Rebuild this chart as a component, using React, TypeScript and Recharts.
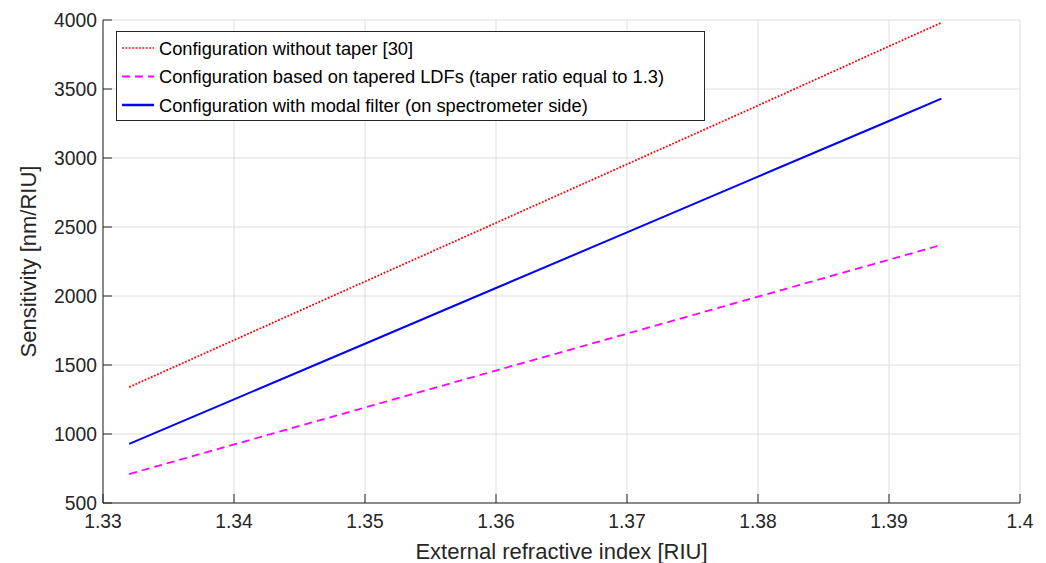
import React from "react";
import {
  LineChart,
  Line,
  XAxis,
  YAxis,
  CartesianGrid,
} from "recharts";

const xValues = [1.332, 1.34, 1.35, 1.36, 1.37, 1.38, 1.39, 1.394];
const withoutTaper = [1340, 1680, 2105, 2530, 2955, 3380, 3810, 3980];
const taperedLDF = [710, 924, 1192, 1460, 1727, 1995, 2263, 2370];
const modalFilter = [928, 1251, 1654, 2058, 2461, 2865, 3268, 3430];

const xTicks = [1.33, 1.34, 1.35, 1.36, 1.37, 1.38, 1.39, 1.4];
const yTicks = [500, 1000, 1500, 2000, 2500, 3000, 3500, 4000];

const seriesNames = [
  "Configuration without taper [30]",
  "Configuration based on tapered LDFs (taper ratio equal to 1.3)",
  "Configuration with modal filter (on spectrometer side)",
];

const data = xValues.map((x, i) => ({
  x,
  withoutTaper: withoutTaper[i],
  taperedLDF: taperedLDF[i],
  modalFilter: modalFilter[i],
}));

const SERIES = [
  { key: "withoutTaper", name: seriesNames[0], color: "#ff0000", dash: "1.8 1.6", width: 1.8, legendWidth: 1.5 },
  { key: "taperedLDF", name: seriesNames[1], color: "#ff00ff", dash: "8 5", width: 1.8, legendWidth: 2 },
  { key: "modalFilter", name: seriesNames[2], color: "#0000ff", dash: undefined as string | undefined, width: 2, legendWidth: 2.5 },
];

const FONT = "'Liberation Sans', Arial, Helvetica, sans-serif";
const AX = "#262626";
const TICK_LEN = 9;

const BottomTick = (props: any) => {
  const { x, y, payload } = props;
  return (
    <g>
      <line x1={x} x2={x} y1={y} y2={y - TICK_LEN} stroke={AX} strokeWidth={1} />
      <text x={x} y={y + 25} textAnchor="middle" fontSize={19.3} fontFamily={FONT} fill={AX}>
        {String(payload.value)}
      </text>
    </g>
  );
};

const TopTick = (props: any) => {
  const { x, y } = props;
  return <line x1={x} x2={x} y1={y} y2={y + TICK_LEN} stroke={AX} strokeWidth={1} />;
};

const LeftTick = (props: any) => {
  const { x, y, payload } = props;
  return (
    <g>
      <line x1={x} x2={x + TICK_LEN} y1={y} y2={y} stroke={AX} strokeWidth={1} />
      <text x={x - 6} y={y + 7} textAnchor="end" fontSize={19.3} fontFamily={FONT} fill={AX}>
        {String(payload.value)}
      </text>
    </g>
  );
};

const RightTick = (props: any) => {
  const { x, y } = props;
  return <line x1={x} x2={x - TICK_LEN} y1={y} y2={y} stroke={AX} strokeWidth={1} />;
};

const LegendBox = () => {
  const rowH = 28.5;
  return (
    <svg
      width={590}
      height={92}
      style={{ position: "absolute", left: 116, top: 31, display: "block" }}
    >
      <rect x={0.5} y={0.5} width={588} height={89} fill="#ffffff" stroke={AX} strokeWidth={1} />
      {SERIES.map((s, i) => {
        const cy = 17 + i * rowH;
        return (
          <g key={s.key}>
            <line
              x1={6}
              x2={38}
              y1={cy}
              y2={cy}
              stroke={s.color}
              strokeWidth={s.legendWidth}
              strokeDasharray={s.dash}
            />
            <text x={43} y={cy + 6.5} fontSize={18.3} fontFamily={FONT} fill="#000000">
              {s.name}
            </text>
          </g>
        );
      })}
    </svg>
  );
};

export default function App() {
  return (
    <div style={{ position: "absolute", left: 0, top: 0, width: 1046, height: 563, background: "#ffffff" }}>
      <LineChart
        width={1046}
        height={563}
        data={data}
        margin={{ top: 20, right: 26, bottom: 0, left: 0 }}
      >
        <CartesianGrid stroke="#dedede" strokeWidth={1} />
        <XAxis
          dataKey="x"
          type="number"
          domain={[1.33, 1.4]}
          ticks={xTicks}
          allowDataOverflow
          height={60}
          tickSize={0}
          tickMargin={0}
          tickLine={false}
          tick={<BottomTick />}
          axisLine={{ stroke: AX, strokeWidth: 1 }}
          interval={0}
          label={{
            value: "External refractive index [RIU]",
            position: "insideBottom",
            offset: 4,
            fontSize: 22,
            fontFamily: FONT,
            fill: AX,
          }}
        />
        <XAxis
          xAxisId="top"
          orientation="top"
          dataKey="x"
          type="number"
          domain={[1.33, 1.4]}
          ticks={xTicks}
          allowDataOverflow
          height={0}
          tickSize={0}
          tickMargin={0}
          tickLine={false}
          tick={<TopTick />}
          axisLine={{ stroke: AX, strokeWidth: 1 }}
          interval={0}
        />
        <YAxis
          type="number"
          domain={[500, 4000]}
          ticks={yTicks}
          allowDataOverflow
          width={103}
          tickSize={0}
          tickMargin={0}
          tickLine={false}
          tick={<LeftTick />}
          axisLine={{ stroke: AX, strokeWidth: 1 }}
          interval={0}
          label={{
            value: "Sensitivity [nm/RIU]",
            angle: -90,
            position: "insideLeft",
            offset: 28,
            fontSize: 22,
            fontFamily: FONT,
            fill: AX,
            style: { textAnchor: "middle" },
          }}
        />
        <YAxis
          yAxisId="right"
          orientation="right"
          type="number"
          domain={[500, 4000]}
          ticks={yTicks}
          allowDataOverflow
          width={0}
          tickSize={0}
          tickMargin={0}
          tickLine={false}
          tick={<RightTick />}
          axisLine={{ stroke: AX, strokeWidth: 1 }}
          interval={0}
        />
        {SERIES.map((s) => (
          <Line
            key={s.key}
            dataKey={s.key}
            name={s.name}
            type="linear"
            stroke={s.color}
            strokeWidth={s.width}
            strokeDasharray={s.dash}
            dot={false}
            activeDot={false}
            isAnimationActive={false}
          />
        ))}
      </LineChart>
      <LegendBox />
    </div>
  );
}
